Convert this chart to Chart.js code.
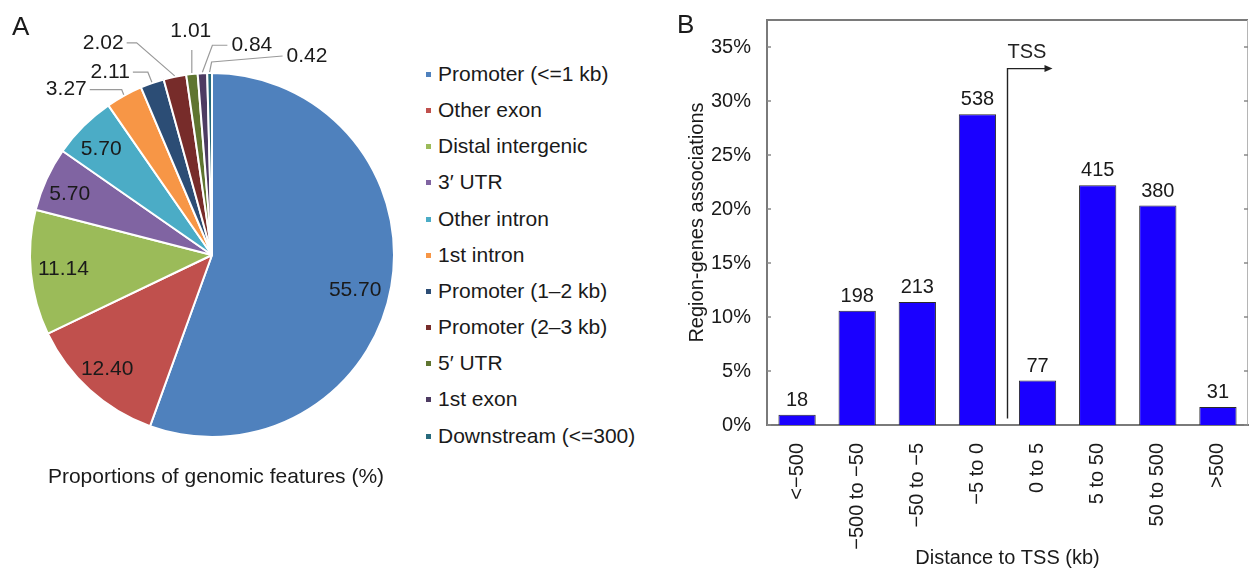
<!DOCTYPE html>
<html>
<head>
<meta charset="utf-8">
<script src="https://cdn.jsdelivr.net/npm/chart.js@4.4.1/dist/chart.umd.min.js"></script>
<style>
  body { margin: 0; background: #fff; }
  #wrap { position: relative; width: 1252px; height: 569px; overflow: hidden;
          font-family: "Liberation Sans", Arial, sans-serif; color: #1a1a1a; }
  #pie { position: absolute; left: 0; top: 0; }
  #bar { position: absolute; left: 660px; top: 0; }
  .panel { position: absolute; font-size: 26px; line-height: 1; }
  #legend { position: absolute; left: 424px; top: 56px; font-size: 21px; }
  .li { height: 36.17px; line-height: 36.17px; white-space: nowrap; position: relative; padding-left: 14px; }
  .sw { position: absolute; left: 2px; top: 16px; width: 5px; height: 5px; }
  #ptitle { position: absolute; left: 0; width: 432px; text-align: center; top: 465px; font-size: 21px; line-height: 1; }
</style>
</head>
<body>
<div id="wrap">
  <canvas id="pie" width="420" height="569"></canvas>
  <canvas id="bar" width="592" height="569"></canvas>
  <div class="panel" style="left:12px;top:13px;">A</div>
  <div class="panel" style="left:677px;top:11px;">B</div>
  <div id="legend"></div>
  <div id="ptitle">Proportions of genomic features (%)</div>
</div>
<script>
// ---------- DATA ----------
const pieLabels = ['Promoter (<=1 kb)', 'Other exon', 'Distal intergenic', '3\u2032 UTR', 'Other intron',
                   '1st intron', 'Promoter (1\u20132 kb)', 'Promoter (2\u20133 kb)', '5\u2032 UTR', '1st exon',
                   'Downstream (<=300)'];
const pieValues = [55.70, 12.40, 11.14, 5.70, 5.70, 3.27, 2.11, 2.02, 1.01, 0.84, 0.42];
const pieColors = ['#4F81BD', '#C0504D', '#9BBB59', '#8064A2', '#4BACC6', '#F79646',
                   '#2C4D75', '#772C2A', '#5F7530', '#4D3B62', '#276A7C'];

const barCategories = ['<\u2212500', '\u2212500 to \u221250', '\u221250 to \u22125', '\u22125 to 0',
                       '0 to 5', '5 to 50', '50 to 500', '>500'];
const barPercents = [0.96, 10.59, 11.39, 28.77, 4.12, 22.19, 20.32, 1.66];
const barCounts = [18, 198, 213, 538, 77, 415, 380, 31];
const yTickValues = [0, 5, 10, 15, 20, 25, 30, 35];

// ---------- STYLE ----------
const FONT = '"Liberation Sans", Arial, sans-serif';
Chart.defaults.font.family = FONT;
Chart.defaults.color = '#1a1a1a';

// inside label placement (radius fraction, angle shift in degrees)
const insideR = [0.81, 0.85, 0.82, 0.85, 0.84];
const insideRot = [3.8, 0.5, 0, -1.5, -1.5];
// outside leader lines: elbow offset from slice edge, horizontal run, rise
const leaders = {
  5:  { elbow: [-2, -5],   run: -32, rise: 0,  align: 'right' },
  6:  { elbow: [-4, -10],  run: -15, rise: 0,  align: 'right' },
  7:  { elbow: [-38, -33], run: -10, rise: 0,  align: 'right' },
  8:  { elbow: [0, -23],   run: 0,   rise: 0,  align: 'center' },
  9:  { elbow: [10, -27],  run: 15,  rise: 0,  align: 'left' },
  10: { elbow: [2, -10],   run: 71,  rise: -6, align: 'left' }
};

// legend (HTML, from data arrays)
const legendEl = document.getElementById('legend');
pieLabels.forEach((lab, i) => {
  const d = document.createElement('div');
  d.className = 'li';
  const s = document.createElement('span');
  s.className = 'sw';
  s.style.background = pieColors[i];
  d.appendChild(s);
  d.appendChild(document.createTextNode(lab));
  legendEl.appendChild(d);
});

const pieLabelPlugin = {
  id: 'pieLabels',
  afterDatasetsDraw(chart) {
    const ctx = chart.ctx;
    const meta = chart.getDatasetMeta(0);
    ctx.save();
    ctx.font = '21px ' + FONT;
    ctx.fillStyle = '#1a1a1a';
    ctx.textBaseline = 'middle';
    meta.data.forEach((arc, i) => {
      const p = arc.getProps(['x', 'y', 'startAngle', 'endAngle', 'outerRadius'], true);
      const mid = (p.startAngle + p.endAngle) / 2;
      const txt = pieValues[i].toFixed(2);
      if (i < insideR.length) {
        const a = mid + insideRot[i] * Math.PI / 180;
        const r = p.outerRadius * insideR[i];
        ctx.textAlign = 'center';
        ctx.fillText(txt, p.x + r * Math.cos(a), p.y + r * Math.sin(a));
      } else if (leaders[i]) {
        const L = leaders[i];
        const ex = p.x + (p.outerRadius + 1) * Math.cos(mid);
        const ey = p.y + (p.outerRadius + 1) * Math.sin(mid);
        const bx = ex + L.elbow[0], by = ey + L.elbow[1];
        const tx = bx + L.run, ty = by + L.rise;
        ctx.strokeStyle = '#9a9a9a';
        ctx.lineWidth = 1.2;
        ctx.beginPath();
        ctx.moveTo(ex, ey); ctx.lineTo(bx, by); ctx.lineTo(tx, ty);
        ctx.stroke();
        if (L.align === 'right') { ctx.textAlign = 'right'; ctx.fillText(txt, tx - 3, ty); }
        else if (L.align === 'left') { ctx.textAlign = 'left'; ctx.fillText(txt, tx + 4, ty); }
        else { ctx.textAlign = 'center'; ctx.fillText(txt, bx - 1, by - 19); }
      }
    });
    ctx.restore();
  }
};

new Chart(document.getElementById('pie'), {
  type: 'pie',
  data: {
    labels: pieLabels,
    datasets: [{ data: pieValues, backgroundColor: pieColors, borderColor: '#ffffff', borderWidth: 2 }]
  },
  options: {
    responsive: false, animation: false, devicePixelRatio: 1,
    layout: { padding: { left: 29, right: 25, top: 72, bottom: 131 } },
    plugins: { legend: { display: false }, tooltip: { enabled: false } }
  },
  plugins: [pieLabelPlugin]
});

const barExtras = {
  id: 'barExtras',
  afterDatasetsDraw(chart) {
    const ctx = chart.ctx;
    const meta = chart.getDatasetMeta(0);
    const ys = chart.scales.y;
    const { left, right, top, bottom } = chart.chartArea;
    ctx.save();
    // value labels
    ctx.font = '20px ' + FONT;
    ctx.fillStyle = '#1a1a1a';
    ctx.textAlign = 'center';
    ctx.textBaseline = 'alphabetic';
    meta.data.forEach((el, i) => { ctx.fillText(String(barCounts[i]), el.x, el.y - 9); });
    // frame top & right
    ctx.strokeStyle = '#7a7a7a';
    ctx.lineWidth = 2;
    ctx.beginPath(); ctx.moveTo(left - 1, top); ctx.lineTo(right, top); ctx.stroke();
    ctx.strokeStyle = '#b5b5b5';
    ctx.lineWidth = 1;
    ctx.beginPath(); ctx.moveTo(right - 0.5, top); ctx.lineTo(right - 0.5, bottom); ctx.stroke();
    // inward ticks
    ctx.strokeStyle = '#888';
    ctx.lineWidth = 1.5;
    yTickValues.forEach(v => {
      const y = ys.getPixelForValue(v);
      ctx.beginPath(); ctx.moveTo(left, y); ctx.lineTo(left + 4, y); ctx.stroke();
      ctx.beginPath(); ctx.moveTo(right - 4, y); ctx.lineTo(right, y); ctx.stroke();
    });
    // TSS arrow
    const xm = (meta.data[3].x + meta.data[4].x) / 2;
    const yb = ys.getPixelForValue(0.6);
    const yt = ys.getPixelForValue(33);
    const tip = xm + 45;
    ctx.strokeStyle = '#222';
    ctx.lineWidth = 1.4;
    ctx.beginPath(); ctx.moveTo(xm, yb); ctx.lineTo(xm, yt); ctx.lineTo(tip - 6, yt); ctx.stroke();
    ctx.fillStyle = '#222';
    ctx.beginPath(); ctx.moveTo(tip, yt); ctx.lineTo(tip - 8, yt - 3.5); ctx.lineTo(tip - 8, yt + 3.5); ctx.closePath(); ctx.fill();
    ctx.font = '20px ' + FONT;
    ctx.textAlign = 'left';
    ctx.textBaseline = 'middle';
    ctx.fillText('TSS', xm, ys.getPixelForValue(33) - 16);
    ctx.restore();
  }
};

new Chart(document.getElementById('bar'), {
  type: 'bar',
  data: {
    labels: barCategories,
    datasets: [{
      data: barPercents,
      backgroundColor: '#1a00ff',
      borderColor: '#2a2a2a',
      borderWidth: 1,
      barPercentage: 0.62,
      categoryPercentage: 1.0
    }]
  },
  options: {
    responsive: false, animation: false, devicePixelRatio: 1,
    layout: { padding: { left: 0, right: 1, top: 15, bottom: 0 } },
    plugins: { legend: { display: false }, tooltip: { enabled: false } },
    scales: {
      x: {
        grid: { display: false },
        border: { display: true, color: '#7a7a7a', width: 2 },
        ticks: { minRotation: 90, maxRotation: 90, autoSkip: false, padding: 10,
                 font: { size: 20 }, color: '#1a1a1a' },
        title: { display: true, text: 'Distance to TSS (kb)', font: { size: 20, lineHeight: 1.1 },
                 padding: { top: 0, bottom: 0 }, color: '#1a1a1a' },
        afterFit: s => { s.height = 144; }
      },
      y: {
        min: 0, max: 37.5,
        grid: { display: false },
        border: { display: true, color: '#7a7a7a', width: 2 },
        ticks: { stepSize: 5, includeBounds: false, padding: 8, font: { size: 20 }, color: '#1a1a1a',
                 callback: v => v + '%' },
        afterBuildTicks: s => { s.ticks = yTickValues.map(v => ({ value: v })); },
        title: { display: true, text: 'Region-genes associations', font: { size: 20 },
                 padding: { top: 25, bottom: 0 }, color: '#1a1a1a' },
        afterFit: s => { s.width = 107; }
      }
    }
  },
  plugins: [barExtras]
});
</script>
</body>
</html>
